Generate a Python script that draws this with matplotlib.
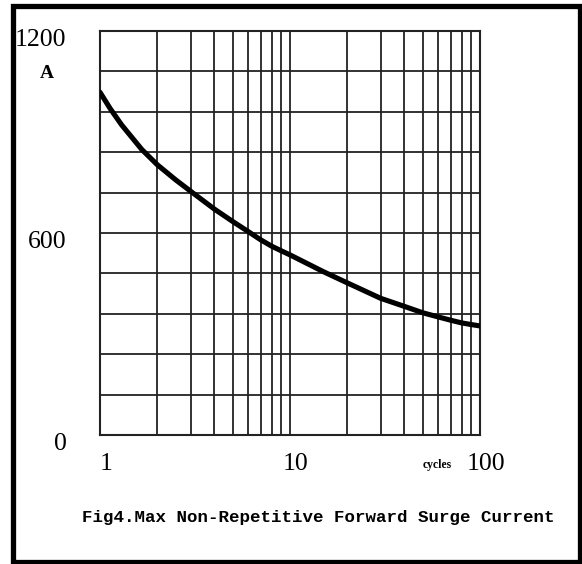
import matplotlib
matplotlib.use("Agg")
import matplotlib.pyplot as plt
import matplotlib.transforms as mtransforms
from matplotlib.patches import Rectangle
from matplotlib.ticker import FixedLocator, NullFormatter

# surge current vs number of cycles
cycles = [1, 1.13, 1.3, 1.66, 2, 2.5, 3, 4, 5, 6, 7, 8, 9, 10,
          15, 20, 30, 40, 50, 60, 70, 80, 90, 100]
current = [1018, 970, 921, 848, 803, 758, 724, 671, 634, 605, 580, 561, 547, 535,
           485, 452, 406, 382, 363, 351, 341, 333, 328, 324]

x_major = [1, 10, 100]
x_major_labels = ["1", "10", "100"]
x_minor = [2, 3, 4, 5, 6, 7, 8, 9, 20, 30, 40, 50, 60, 70, 80, 90]
y_major = [0, 600, 1200]
y_major_labels = ["0", "600", "1200"]
y_minor = [120, 240, 360, 480, 720, 840, 960, 1080]

title = "Fig4.Max Non-Repetitive Forward Surge Current"

fig = plt.figure(figsize=(5.82, 5.64), dpi=100)
ax = fig.add_axes([100 / 582, 1 - 435 / 564, 380 / 582, 404 / 564])

ax.plot(cycles, current, color="black", lw=3.7, solid_capstyle="round",
        solid_joinstyle="round", zorder=3)

ax.set_xscale("log")
ax.set_xlim(1, 100)
ax.set_ylim(0, 1200)

ax.xaxis.set_major_locator(FixedLocator(x_major))
ax.xaxis.set_minor_locator(FixedLocator(x_minor))
ax.xaxis.set_minor_formatter(NullFormatter())
ax.set_xticklabels(x_major_labels, family="Liberation Serif")
ax.yaxis.set_major_locator(FixedLocator(y_major))
ax.yaxis.set_minor_locator(FixedLocator(y_minor))
ax.set_yticklabels(y_major_labels, family="Liberation Serif")

ax.grid(True, which="both", color="#222222", lw=1.3)
ax.tick_params(which="both", length=0)
ax.tick_params(axis="x", pad=13, labelsize=18.5)
ax.tick_params(axis="y", pad=24, labelsize=18.5)
for sp in ax.spines.values():
    sp.set_color("#222222")
    sp.set_linewidth(1.5)

# labels sit a bit off their gridlines in the original
shift_x = mtransforms.ScaledTranslation(6 / 100, 0, fig.dpi_scale_trans)
for lab in ax.get_xticklabels():
    lab.set_transform(lab.get_transform() + shift_x)
shift_y = mtransforms.ScaledTranslation(0, -6 / 100, fig.dpi_scale_trans)
for lab in ax.get_yticklabels():
    lab.set_transform(lab.get_transform() + shift_y)

ax.text(-0.139, 0.894, "A", transform=ax.transAxes, ha="center", va="center",
        fontsize=14, fontweight="bold", family="Liberation Serif")
ax.text(0.887, -0.074, "cycles", transform=ax.transAxes, ha="center", va="center",
        fontsize=8.5, fontweight="bold", family="Liberation Serif")

fig.text(0.547, 0.0833, title, ha="center", va="center",
         fontsize=12.6, fontweight="bold", family="Liberation Mono")

# black frame around the whole figure
fig.patches.append(Rectangle((12.5 / 582, 1 - 562 / 564), 567 / 582, 556.5 / 564,
                             transform=fig.transFigure, fill=False,
                             edgecolor="black", lw=3.8))

fig.savefig("out.png", dpi=100)
